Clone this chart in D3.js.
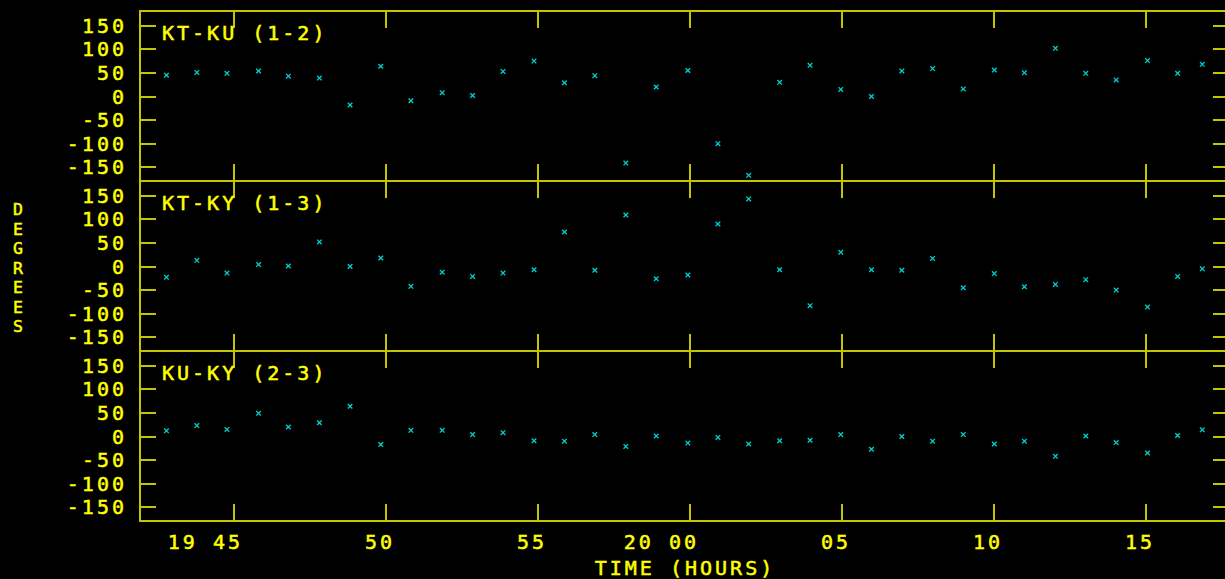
<!DOCTYPE html>
<html>
<head>
<meta charset="utf-8">
<script src="https://cdn.jsdelivr.net/npm/d3@7"></script>
<style>
  html, body { margin: 0; padding: 0; background: #000; }
  svg { display: block; }
  text { font-family: "DejaVu Sans Mono", monospace; font-size: 20px; fill: #ffff00;
         stroke: #ffff00; stroke-width: 0.5px; letter-spacing: 3px; }
</style>
</head>
<body>
<svg width="1225" height="579"></svg>
<script>
// times in minutes after 19:00
var times = [42.81, 43.81, 44.80, 45.84, 46.82, 47.84, 48.85, 49.86, 50.85, 51.88,
	52.88, 53.88, 54.90, 55.90, 56.90, 57.92, 58.92, 59.96, 60.95, 61.96,
	62.98, 63.98, 64.99, 66.00, 67.00, 68.01, 69.02, 70.04, 71.03, 72.05,
	73.05, 74.05, 75.08, 76.07, 76.88];

var ktku = [44, 50, 48, 53, 42, 38, -19, 63, -10, 7, 1, 52, 74, 28, 43, -142, 19, 54,
	-101, -168, 29, 65, 14, -1, 53, 58, 15, 55, 49, 101, 48, 34, 75, 48, 67];
var ktky = [-24, 12, -15, 3, 0, 51, -1, 17, -43, -13, -22, -15, -8, 72, -9, 108, -27, -19,
	89, 142, -8, -84, 29, -8, -9, 16, -46, -16, -44, -39, -29, -51, -87, -22, -6];
var kuky = [11, 22, 14, 48, 19, 28, 63, -18, 12, 12, 3, 7, -10, -11, 3, -22, 0, -15,
	-3, -17, -10, -9, 3, -28, -1, -11, 3, -17, -11, -43, 0, -14, -36, 1, 13];

var panelNames = ["KT-KU (1-2)", "KT-KY (1-3)", "KU-KY (2-3)"];
var panelData = [ktku, ktky, kuky];

var yTicks = [150, 100, 50, 0, -50, -100, -150];
var xTicks = [45, 50, 55, 60, 65, 70, 75];
var xTickLabels = ["19 45", "50", "55", "20 00", "05", "10", "15"];

var svg = d3.select("svg");
var frameColor = "#c4c400";
var left = 140, right = 1229, top0 = 11, panelH = 170;

var x = d3.scaleLinear().domain([41.94, 77.76]).range([left, right]);

function drawPanel(i) {
	var top = top0 + i * panelH, bottom = top + panelH;
	var y = d3.scaleLinear().domain([-180, 180]).range([bottom, top]);
	var g = svg.append("g").attr("class", "panel");

	g.append("rect")
		.attr("x", left).attr("y", top)
		.attr("width", right - left).attr("height", panelH)
		.attr("fill", "none").attr("stroke", frameColor)
		.attr("stroke-width", 2).attr("shape-rendering", "crispEdges");

	// y ticks, inward on both sides
	g.append("g")
		.attr("transform", "translate(" + left + ",0)")
		.call(d3.axisRight(y).tickValues(yTicks).tickSize(16).tickFormat(""))
		.call(function(a) { a.select(".domain").remove(); });
	g.append("g")
		.attr("transform", "translate(" + right + ",0)")
		.call(d3.axisLeft(y).tickValues(yTicks).tickSize(16).tickFormat(""))
		.call(function(a) { a.select(".domain").remove(); });
	// x ticks, inward at top and bottom
	g.append("g")
		.attr("transform", "translate(0," + top + ")")
		.call(d3.axisBottom(x).tickValues(xTicks).tickSize(17).tickFormat(""))
		.call(function(a) { a.select(".domain").remove(); });
	g.append("g")
		.attr("transform", "translate(0," + bottom + ")")
		.call(d3.axisTop(x).tickValues(xTicks).tickSize(17).tickFormat(""))
		.call(function(a) { a.select(".domain").remove(); });

	g.selectAll(".tick line")
		.attr("stroke", frameColor).attr("stroke-width", 2)
		.attr("shape-rendering", "crispEdges");

	g.selectAll("text.ylab")
		.data(yTicks)
		.enter().append("text")
		.attr("class", "ylab")
		.attr("x", 127)
		.attr("y", function(d) { return y(d) + 7.5; })
		.attr("text-anchor", "end")
		.text(function(d) { return d; });

	g.append("text")
		.attr("x", 162)
		.attr("y", top + 28.5)
		.text(panelNames[i]);

	var pts = panelData[i].map(function(v, k) { return [times[k], v]; });
	g.selectAll("path.pt")
		.data(pts)
		.enter().append("path")
		.attr("class", "pt")
		.attr("d", function(d) {
			var cx = x(d[0]), cy = y(d[1]), s = 2.3;
			return "M" + (cx - s) + "," + (cy - s) + "L" + (cx + s) + "," + (cy + s)
				+ "M" + (cx - s) + "," + (cy + s) + "L" + (cx + s) + "," + (cy - s);
		})
		.attr("stroke", "#00d0d0")
		.attr("stroke-width", 1.3)
		.attr("fill", "none");
}

for (var i = 0; i < panelData.length; i++) {
	drawPanel(i);
}

// x tick labels
svg.selectAll("text.xlab")
	.data(xTicks)
	.enter().append("text")
	.attr("class", "xlab")
	.attr("x", function(d) { return x(d) + 10; })
	.attr("y", 548.5)
	.attr("text-anchor", "end")
	.text(function(d, k) { return xTickLabels[k]; });

svg.append("text")
	.attr("x", 685)
	.attr("y", 575)
	.attr("text-anchor", "middle")
	.text("TIME (HOURS)");

var ylabel = "DEGREES".split("");
svg.selectAll("text.ytitle")
	.data(ylabel)
	.enter().append("text")
	.attr("class", "ytitle")
	.attr("x", 18)
	.attr("y", function(d, k) { return 215 + k * 19.5; })
	.attr("text-anchor", "middle")
	.style("letter-spacing", "0px")
	.style("font-size", "16.5px")
	.text(function(d) { return d; });
</script>
</body>
</html>
